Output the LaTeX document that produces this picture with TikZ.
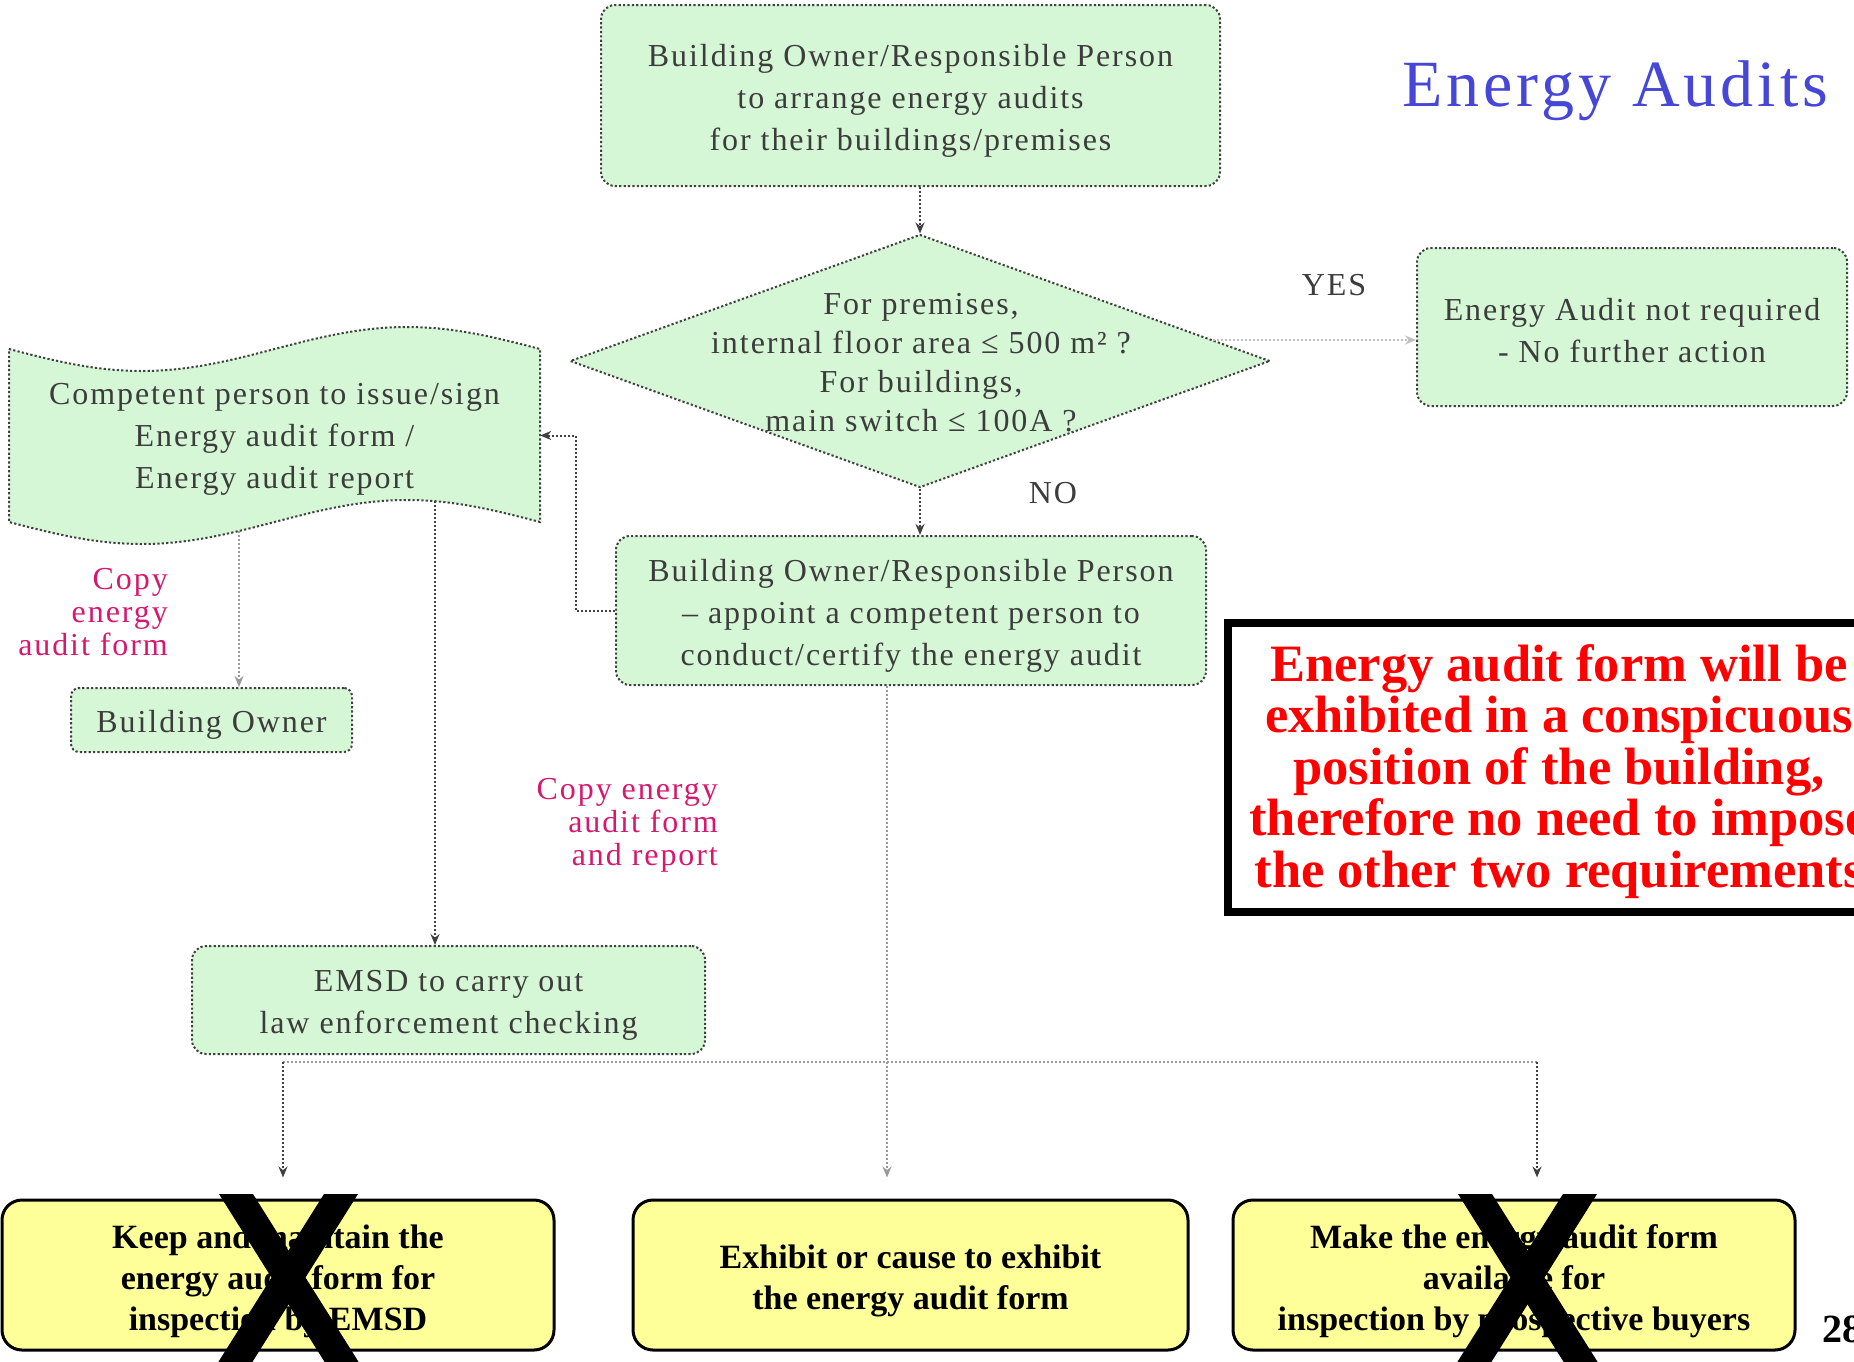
\documentclass[tikz,border=0pt]{standalone}
\usepackage{fontspec}
\setmainfont{Liberation Serif}
\newfontfamily\boxfont[LetterSpace=6]{Liberation Serif}
\usetikzlibrary{shapes.geometric,arrows.meta}
\definecolor{boxgreen}{RGB}{214,247,214}
\definecolor{ink}{RGB}{60,60,60}
\definecolor{note}{RGB}{214,24,110}
\definecolor{titleblue}{RGB}{70,70,215}
\definecolor{panel}{RGB}{255,255,153}

\begin{document}
\begin{tikzpicture}[x=1pt,y=-1pt,
  greenbox/.style={draw=black!75, line width=2pt, dash pattern=on 2.2pt off 2.2pt,
    fill=boxgreen, rounded corners=14pt, inner sep=0pt},
  decision/.style={diamond, draw=black!75, line width=2pt, dash pattern=on 2.2pt off 2.2pt,
    fill=boxgreen, inner sep=0pt},
  plain/.style={inner sep=0pt, align=center, text=ink, font=\boxfont\fontsize{32}{42}\selectfont},
  boxtext/.style={plain, yshift=-5pt},
  notelabel/.style={inner sep=0pt, align=right, text=note, font=\boxfont\fontsize{32}{33}\selectfont},
  panelbox/.style={draw=black, line width=3pt, fill=panel, rounded corners=20pt, inner sep=0pt},
  paneltext/.style={inner sep=0pt, align=center, yshift=-6pt,
    font=\bfseries\fontsize{34}{41}\selectfont},
  connDark/.style={draw=black!75, line width=2pt, dash pattern=on 2pt off 2pt,
    -{Stealth[length=11pt,width=9pt]}},
  connLight/.style={draw=black!40, line width=2pt, dash pattern=on 2pt off 2pt,
    -{Stealth[length=11pt,width=9pt]}},
  crossmark/.style={fill=black}
]
\clip (0,0) rectangle (1854,1361);

% title
\node[anchor=base west, text=titleblue, font=\boxfont\fontsize{66}{66}\selectfont] (title)
  at (1399,106) {Energy Audits};

% process boxes
\node[greenbox, minimum width=619pt, minimum height=181pt] (top) at (910.5,95.5) {};
\node[boxtext] (topT) at (top)
  {Building Owner/Responsible Person\\to arrange energy audits\\for their buildings/premises};
\node[decision, minimum width=700pt, minimum height=253pt] (dia) at (920,361) {};
\node[plain, font=\boxfont\fontsize{32}{39}\selectfont] (diaT) at (921,363)
  {For premises,\\internal floor area ≤ 500 m² ?\\For buildings,\\main switch ≤ 100A ?};
\node[greenbox, minimum width=430pt, minimum height=158pt] (yes) at (1632,327) {};
\node[plain, yshift=-4pt] (yesT) at (yes) {Energy Audit not required\\- No further action};
\node[greenbox, minimum width=590pt, minimum height=149pt] (mid) at (911,610.5) {};
\node[boxtext] (midT) at (mid)
  {Building Owner/Responsible Person\\– appoint a competent person to\\conduct/certify the energy audit};

% punched-tape document shape
\path[draw=black!75, line width=2pt, dash pattern=on 2.2pt off 2.2pt, fill=boxgreen]
  (9,349) sin (141.75,371) cos (274.5,349) sin (407.25,327) cos (540,349)
  -- (540,522) sin (407.25,500) cos (274.5,522) sin (141.75,544) cos (9,522) -- cycle;
\node[inner sep=0pt, minimum width=531pt, minimum height=217pt] (wave) at (274.5,435.5) {};
\node[plain, yshift=-4pt] (waveT) at (wave)
  {Competent person to issue/sign\\Energy audit form /\\Energy audit report};
\coordinate (waveOutA) at (239,531);
\coordinate (waveOutB) at (435,501);

\node[greenbox, rounded corners=8pt, minimum width=281pt, minimum height=64pt] (owner) at (211.5,720) {};
\node[boxtext] (ownerT) at (owner) {Building Owner};
\node[greenbox, minimum width=513pt, minimum height=108pt] (emsd) at (448.5,1000) {};
\node[boxtext] (emsdT) at (emsd) {EMSD to carry out\\law enforcement checking};

% labels
\node[plain] (yeslbl) at (1334,285) {YES};
\node[plain] (nolbl) at (1053,493) {NO};
\node[notelabel, anchor=east] (copyA) at (168,612) {Copy\\energy\\audit form};
\node[notelabel, anchor=east] (copyB) at (718,825) {Copy energy\\audit form\\and report};

% requirement boxes
\node[panelbox, minimum width=552pt, minimum height=150pt] (botL) at (278,1275) {};
\node[paneltext] (botLT) at (botL)
  {Keep and maintain the\\energy audit form for\\inspection by EMSD};
\node[panelbox, minimum width=555pt, minimum height=150pt] (botC) at (910.5,1275) {};
\node[paneltext] (botCT) at (botC)
  {Exhibit or cause to exhibit\\the energy audit form};
\node[panelbox, minimum width=562pt, minimum height=150pt] (botR) at (1514,1275) {};
\node[paneltext] (botRT) at (botR)
  {Make the energy audit form\\available for\\inspection by prospective buyers};

% remark box
\node[draw=black, line width=8pt, fill=white, minimum width=670pt, minimum height=289pt,
  inner sep=0pt] (remark) at (1563,767.5) {};
\node[inner sep=0pt, text=red, align=center, yshift=-4pt,
  font=\bfseries\fontsize{52.5}{51.5}\selectfont] (remarkT) at (1559,767.5)
  {Energy audit form will be\\exhibited in a conspicuous\\position of the building,\\therefore no need to impose\\the other two requirements};

\node[anchor=base west, font=\bfseries\fontsize{40}{40}\selectfont] (page) at (1819,1342) {28};

% connectors
\draw[connDark] (top.south -| dia.north) -- (dia.north);
\draw[connDark] (dia.south) -- (mid.north -| dia.south);
\coordinate (yesA) at (1213,340);
\draw[connLight, draw=black!25] (yesA) -- (yesA -| yes.west);
\draw[connDark] (mid.west) -- ++(-39,0) |- (wave.east);
\draw[connLight] (waveOutA) -- (owner.north -| waveOutA);
\draw[connDark] (waveOutB) -- (emsd.north -| waveOutB);

\coordinate (busL) at (283,1062);
\coordinate (busC) at (887,1062);
\coordinate (busR) at (1537,1062);
\draw[connLight, -] (busL) -- (busR);
\draw[connLight, shorten >=21pt] (mid.south -| busC) -- (botC.north -| busC);
\draw[connDark, shorten >=21pt] (busL) -- (botL.north -| busL);
\draw[connDark, shorten >=21pt] (busR) -- (botR.north -| busR);

% crossed-out requirements
\fill[crossmark] (219,1194) -- (253,1194) -- (363.7,1370) -- (329.7,1370) -- cycle;
\fill[crossmark] (324,1194) -- (358,1194) -- (247.3,1370) -- (213.3,1370) -- cycle;
\fill[crossmark] (1458,1194) -- (1492,1194) -- (1602.7,1370) -- (1568.7,1370) -- cycle;
\fill[crossmark] (1563,1194) -- (1597,1194) -- (1486.3,1370) -- (1452.3,1370) -- cycle;
\end{tikzpicture}
\end{document}
